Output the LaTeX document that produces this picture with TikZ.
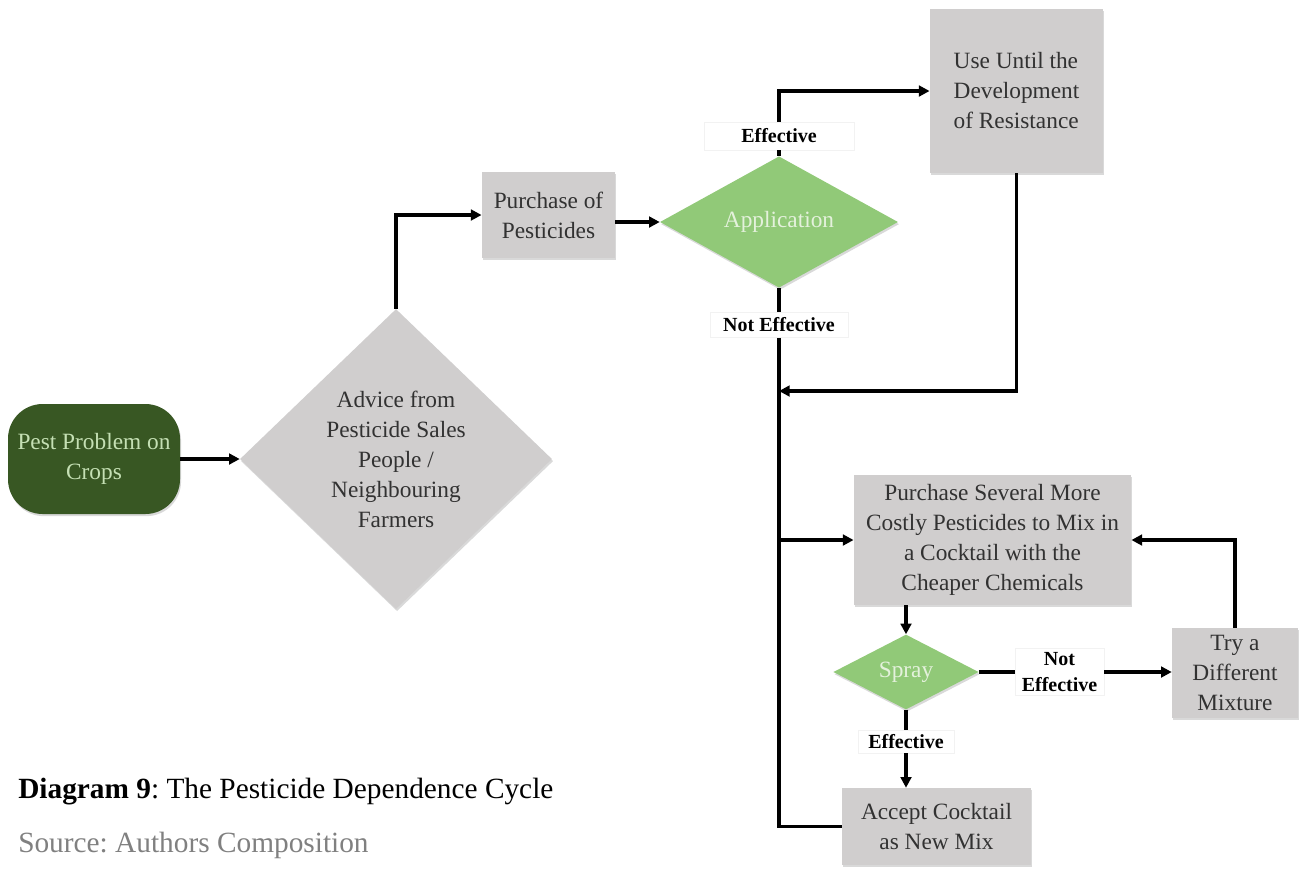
\documentclass[tikz,border=0pt]{standalone}
\usepackage{fontspec}
\setmainfont{Liberation Serif}
\usepackage{tikz}
\usetikzlibrary{arrows.meta}
\usetikzlibrary{positioning,shapes.geometric,shadows}
\frenchspacing

\definecolor{boxgray}{RGB}{208,206,206}
\definecolor{boxtext}{RGB}{50,50,50}
\definecolor{darkgreen}{RGB}{56,87,35}
\definecolor{lightleaf}{RGB}{197,224,180}
\definecolor{decgreen}{RGB}{145,201,120}
\definecolor{dectext}{RGB}{228,241,220}

\begin{document}
\begin{tikzpicture}[x=0.75pt,y=-0.75pt]
		\useasboundingbox (0,0) rectangle (1306,869);

		\begin{scope}[every node/.style={font=\fontsize{17.5}{22.5}\selectfont,align=center,inner sep=0pt},
			shade/.style={drop shadow={shadow xshift=0.8pt,shadow yshift=-1.6pt,opacity=0.3}},
			startbox/.style={rectangle,rounded corners=26pt,fill=darkgreen,text=lightleaf,shade},
			box/.style={rectangle,fill=boxgray,text=boxtext,shade},
			advbox/.style={diamond,fill=boxgray,text=boxtext,shade},
			dec/.style={diamond,fill=decgreen,text=dectext,shade},
			lbl/.style={rectangle,fill=white,draw=gray!10,font=\fontsize{15}{19}\selectfont\bfseries,text=black},
		]
			\node[startbox,minimum width=129pt,minimum height=82.5pt] (pest) at (94,459) {Pest Problem on\\Crops};
			\node[advbox,minimum width=234pt,minimum height=225pt] (advice) at (396,459) {Advice from\\Pesticide Sales\\People /\\Neighbouring\\Farmers};
			\node[box,minimum width=100pt,minimum height=64pt] (buy) at (548.5,215) {Purchase of\\Pesticides};
			\node[dec,minimum width=178.5pt,minimum height=71pt] (app) at (779,222) {Application};
			\node[lbl,minimum width=112.5pt,minimum height=21pt] (eff1) at (779,136) {Effective};
			\node[lbl,minimum width=103.5pt,minimum height=19pt] (neff1) at (779,325) {Not Effective};
			\node[box,align=left,minimum width=130pt,minimum height=123pt] (use) at (1016.5,91) {Use Until the\\Development\\of Resistance};
			\node[box,minimum width=208pt,minimum height=97.5pt] (mix) at (992.5,540) {Purchase Several More\\Costly Pesticides to Mix in\\a Cocktail with the\\Cheaper Chemicals};
			\node[dec,minimum width=109pt,minimum height=53pt] (spray) at (906,672) {Spray};
			\node[lbl,minimum width=67pt,minimum height=35pt] (neff2) at (1059.5,672) {Not\\Effective};
			\node[box,minimum width=94.5pt,minimum height=67.5pt] (try) at (1235,673) {Try a\\Different\\Mixture};
			\node[lbl,minimum width=72pt,minimum height=17pt] (eff2) at (906,741.5) {Effective};
			\node[box,minimum width=141.75pt,minimum height=57.75pt] (okmix) at (936.5,826.5) {Accept Cocktail\\as New Mix};
			\coordinate (join) at (779,391);
		\end{scope}

		\begin{scope}[>={Triangle[length=8pt,width=8pt]},line width=2.4pt]
			\draw[->] (pest.east) -- (advice.west);
			\draw[->] (advice.north) |- (buy.west);
			\draw[->] (buy.east |- app.west) -- (app.west);
			\draw (app.north) -- (eff1.south);
			\draw[->] (eff1.north) |- (use.west);
			\draw (app.south) -- (neff1.north);
			\draw (neff1.south) |- (okmix.west);
			\draw[->] (use.south) |- (join);
			\draw[->] (join |- mix.west) -- (mix.west);
			\draw[->] (spray.north |- mix.south) -- (spray.north);
			\draw (spray.east) -- (neff2.west);
			\draw[->] (neff2.east) -- (neff2.east -| try.west);
			\draw[->] (try.north) |- (mix.east);
			\draw (spray.south) -- (eff2.north);
			\draw[->] (eff2.south) -- (eff2.south |- okmix.north);
		\end{scope}

		\begin{scope}[every node/.style={font=\fontsize{22}{26}\selectfont,inner sep=0pt,anchor=base west}]
			\node (caption) at (18,798) {\textbf{Diagram 9}: The Pesticide Dependence Cycle};
			\node[text=gray] (source) at (18,852) {Source: Authors Composition};
		\end{scope}
	\end{tikzpicture}
\end{document}
